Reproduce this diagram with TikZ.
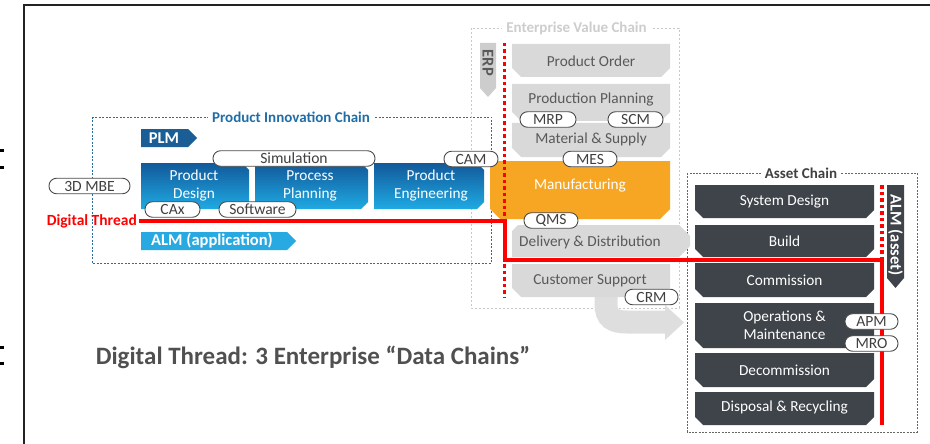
\documentclass[tikz,border=0pt]{standalone}
\usepackage{fontspec}
\setmainfont{Carlito}
\definecolor{framegray}{HTML}{222222}
\definecolor{plmblue}{HTML}{1B5E96}
\definecolor{almblue}{HTML}{29A9E1}
\definecolor{boxtop}{HTML}{12599A}
\definecolor{boxbot}{HTML}{1FAAE3}
\definecolor{pictitle}{HTML}{1F6EA8}
\definecolor{picline}{HTML}{2A6E9E}
\definecolor{evcgray}{HTML}{D9D9D9}
\definecolor{erpgray}{HTML}{CDCDCD}
\definecolor{arrowgray}{HTML}{DEDEDE}
\definecolor{evctext}{HTML}{595959}
\definecolor{evctitle}{HTML}{CDCDCD}
\definecolor{evcline}{HTML}{C8C8C8}
\definecolor{mfgorange}{HTML}{F6A623}
\definecolor{assetdark}{HTML}{3F434A}
\definecolor{assettitle}{HTML}{404040}
\definecolor{assetline}{HTML}{666666}
\definecolor{threadred}{HTML}{FF0000}
\definecolor{titlegray}{HTML}{505050}
\definecolor{pillline}{HTML}{4A4A4A}
\definecolor{pilltext}{HTML}{404040}

% box whose two lower corners are cut off: x1,y1,x2,y2,cut,style
\newcommand\lowchamf[6]{%
  \path[#6] (#1,#2) -- (#3,#2) -- (#3,#4-#5) -- (#3-#5,#4) -- (#1+#5,#4) -- (#1,#4-#5) -- cycle;}
% box whose two right corners are cut off: x1,y1,x2,y2,cut,style
\newcommand\rightchamf[6]{%
  \path[#6] (#1,#2) -- (#3-#5,#2) -- (#3,#2+#5) -- (#3,#4-#5) -- (#3-#5,#4) -- (#1,#4) -- cycle;}

\begin{document}
\begin{tikzpicture}[x=1pt,y=-1pt,
  lbl/.style={font=\fontsize{15.3}{18}\selectfont, align=center, inner sep=0pt},
  graylbl/.style={lbl, text=evctext},
  whitelbl/.style={lbl, text=white},
  tagtext/.style={font=\bfseries\fontsize{16.5}{18}\selectfont, inner sep=0pt},
  chaintitle/.style={font=\bfseries\fontsize{15}{17}\selectfont, fill=white, inner xsep=4pt, inner ysep=1pt},
  pill/.style={draw=pillline, fill=white, line width=0.9pt, rounded corners=7.5pt,
    minimum height=15.5pt, inner sep=0pt, font=\fontsize{15.6}{15.6}\selectfont, text=pilltext},
  thread/.style={draw=threadred, line width=4pt},
  dotthread/.style={draw=threadred, line width=3.5pt, dash pattern=on 3.5pt off 3pt},
  picdash/.style={draw=picline, line width=0.8pt, dash pattern=on 2pt off 1.5pt},
  evcdash/.style={draw=evcline, line width=0.7pt, dash pattern=on 2pt off 2pt},
  assetdash/.style={draw=assetline, line width=0.8pt, dash pattern=on 2pt off 1.3pt},
]
\useasboundingbox (0,0) rectangle (930,444);

% slide frame and clipped glyphs at the left edge
\draw[line width=2pt, framegray] (24,444) -- (24,5) -- (930,5);
\fill[black] (0,149) rectangle (4,152);
\fill[black] (0,166) rectangle (4,169);
\fill[black] (0,346) rectangle (4,349);
\fill[black] (0,362) rectangle (4,365);

% ---------- chain frames ----------
\draw[picdash] (92,117) rectangle (491,263);
\node[chaintitle, text=pictitle] (pictitle) at (291,117) {Product Innovation Chain};
\draw[evcdash] (471,28) rectangle (679,308);
\node[chaintitle, text=evctitle] (evctitle) at (576.5,28) {Enterprise Value Chain};
\draw[assetdash] (687,173) rectangle (917,432);
\node[chaintitle, text=assettitle] (assettitle) at (801,173) {Asset Chain};

% ---------- hand-over arrow from customer support to the asset chain ----------
\draw[line width=23pt, arrowgray] (606,290) -- (606,304) .. controls (606,318) and (613,322) .. (627,322) -- (667,322);
\fill[arrowgray] (665,305) -- (684,322.5) -- (665,340) -- cycle;

% ---------- enterprise value chain ----------
\fill[erpgray] (480,43) -- (496,43) -- (496,88) -- (488,97) -- (480,88) -- cycle;
\node[tagtext, text=evctext, rotate=-90] (erp) at (488,63) {ERP};

\lowchamf{512}{44}{670}{77}{9}{fill=evcgray}
\node[graylbl] (order) at (591,61) {Product Order};
\lowchamf{512}{84}{670}{121}{9}{fill=evcgray}
\node[graylbl] (prodplan) at (591,100) {Production Planning};
\lowchamf{512}{123}{670}{157}{9}{fill=evcgray}
\node[graylbl] (material) at (591,139) {Material \& Supply};
\lowchamf{490}{161}{670}{219}{10}{fill=mfgorange}
\node[whitelbl] (mfg) at (580,186) {Manufacturing};
\path[fill=evcgray] (512,231) -- (518,225) -- (679,225) -- (690,236) -- (690,246) -- (679,257) -- (512,257) -- cycle;
\node[graylbl] (delivery) at (590,242) {Delivery \& Distribution};
\lowchamf{512}{264}{670}{297}{9}{fill=evcgray}
\node[graylbl] (support) at (590,281) {Customer Support};

% ---------- product innovation chain ----------
\fill[plmblue] (141,129) -- (188,129) -- (197,138) -- (188,147) -- (141,147) -- cycle;
\node[tagtext, text=white] (plm) at (164,138) {PLM};
\fill[almblue] (141,232) -- (287,232) -- (296,241) -- (287,250) -- (141,250) -- cycle;
\node[tagtext, text=white] (almapp) at (212,241) {ALM (application)};

\rightchamf{141}{163}{249}{209}{7}{top color=boxtop, bottom color=boxbot}
\node[whitelbl] (design) at (194,186) {Product\\Design};
\rightchamf{255}{163}{368}{209}{7}{top color=boxtop, bottom color=boxbot}
\node[whitelbl] (process) at (310,186) {Process\\Planning};
\rightchamf{374}{163}{484}{209}{7}{top color=boxtop, bottom color=boxbot}
\node[whitelbl] (engineering) at (431,186) {Product\\Engineering};

% ---------- asset chain ----------
\lowchamf{695}{185}{874}{218}{8}{fill=assetdark}
\node[whitelbl] (sysdesign) at (784.5,202) {System Design};
\lowchamf{695}{225}{874}{257}{8}{fill=assetdark}
\node[whitelbl] (build) at (784.5,241) {Build};
\lowchamf{695}{263}{874}{297}{8}{fill=assetdark}
\node[whitelbl] (commission) at (784.5,280) {Commission};
\lowchamf{695}{303}{874}{348}{8}{fill=assetdark}
\node[whitelbl] (operations) at (784.5,325) {Operations \&\\Maintenance};
\lowchamf{695}{353}{874}{387}{8}{fill=assetdark}
\node[whitelbl] (decommission) at (784.5,370) {Decommission};
\lowchamf{695}{392}{874}{425}{8}{fill=assetdark}
\node[whitelbl] (disposal) at (784.5,408) {Disposal \& Recycling};

\fill[assetdark] (887,185) -- (904,185) -- (904,278) -- (895.5,288) -- (887,278) -- cycle;
\node[tagtext, text=white, rotate=-90] (almasset) at (895.5,235) {ALM (asset)};

% ---------- digital thread ----------
\node[font=\bfseries\fontsize{15.5}{17}\selectfont, text=threadred, anchor=east, inner sep=0pt] (dtlabel) at (137,221) {Digital Thread};
\coordinate (erpTop) at (504.5,43);
\coordinate (erpBot) at (504.5,297);
\coordinate (erpTurn) at (504.5,221);
\coordinate (erpDown) at (504.5,259.5);
\coordinate (almTop) at (882,185);
\coordinate (almTurn) at (882,259.5);
\coordinate (almEnd) at (882,425);
\draw[dotthread] (erpTop) -- (erpBot);
\draw[dotthread] (almTop) -- (almTurn);
\draw[thread] ([xshift=2pt]dtlabel.east) -- (erpTurn) -- (erpDown) -- (almTurn) -- (almEnd);

% ---------- system tags ----------
\node[pill, minimum width=81pt] (mbe) at (89.5,186) {3D MBE};
\node[pill, minimum width=162pt] (sim) at (294,158.5) {Simulation};
\node[pill, minimum width=55pt] (cax) at (172.5,209.5) {CAx};
\node[pill, minimum width=77pt] (software) at (257.5,209.5) {Software};
\node[pill, minimum width=54pt] (cam) at (471,159) {CAM};
\node[pill, minimum width=56pt] (mrp) at (548,119.5) {MRP};
\node[pill, minimum width=55pt] (scm) at (635.5,119.5) {SCM};
\node[pill, minimum width=54pt] (mes) at (590,159) {MES};
\node[pill, minimum width=54pt] (qms) at (551,220.5) {QMS};
\node[pill, minimum width=53pt] (crm) at (651.5,297) {CRM};
\node[pill, minimum width=53pt] (apm) at (871.5,321.5) {APM};
\node[pill, minimum width=53pt] (mro) at (871.5,343.5) {MRO};

% ---------- caption ----------
\node[font=\bfseries\fontsize{25}{29}\selectfont, text=titlegray, inner sep=0pt] (caption) at (313,357)
  {Digital Thread: 3 Enterprise “Data Chains”};
\end{tikzpicture}
\end{document}
